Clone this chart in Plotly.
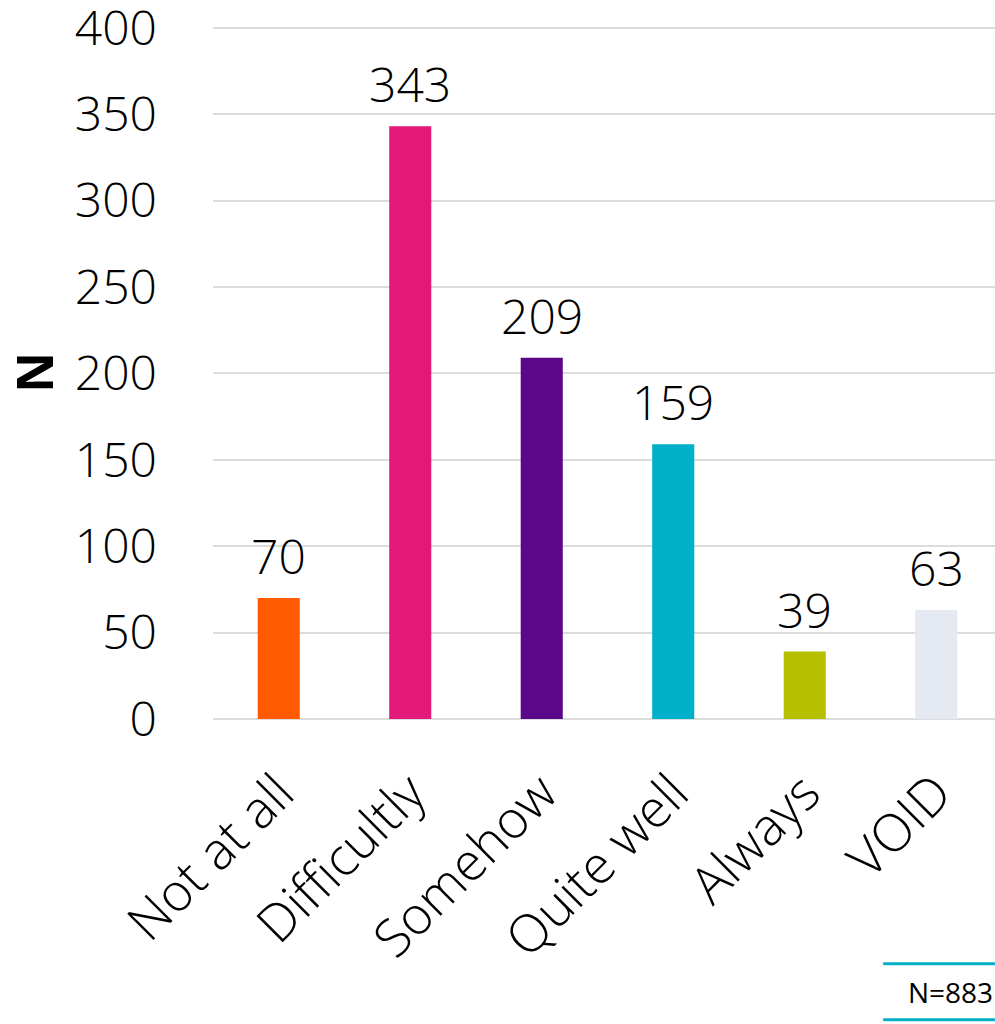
import plotly.graph_objects as go

categories = ["Not at all", "Difficultly", "Somehow", "Quite well", "Always", "VOID"]
counts = [70, 343, 209, 159, 39, 63]
colors = ["#FF5A00", "#E3197A", "#5A0789", "#00AFC8", "#B6BF00", "#E5EAF2"]
y_ticks = [0, 50, 100, 150, 200, 250, 300, 350, 400]
sample_note = "N=883"

FONT = "Open Sans"
NUM_SIZE = 48

fig = go.Figure(
    go.Bar(
        x=categories,
        y=counts,
        marker=dict(color=colors, line=dict(width=0)),
        width=0.32,
        cliponaxis=False,
    )
)

# Value labels above each bar
for cat, v in zip(categories, counts):
    fig.add_annotation(
        x=cat, y=v, text=str(v), showarrow=False,
        yanchor="bottom", yshift=8,
        font=dict(family=FONT, size=NUM_SIZE, color="#000000", weight=300),
    )

fig.update_layout(
    width=995,
    height=1024,
    margin=dict(l=213, r=0, t=26, b=305),
    paper_bgcolor="white",
    plot_bgcolor="white",
    showlegend=False,
    font=dict(family=FONT, color="#000000"),
    xaxis=dict(
        range=[-0.5, 5.447],
        tickangle=-45,
        tickfont=dict(family=FONT, size=52, weight=300),
        showgrid=False,
        showline=False,
        ticks="",
        ticklabelstandoff=32,
        automargin=False,
    ),
    yaxis=dict(
        range=[0, 401],
        tickvals=y_ticks,
        tickfont=dict(family=FONT, size=NUM_SIZE, weight=300),
        ticklabeloverflow="allow",
        automargin=False,
        showgrid=True,
        gridcolor="#DCDCDC",
        gridwidth=2,
        zeroline=True,
        zerolinecolor="#DCDCDC",
        zerolinewidth=2,
        ticks="",
        ticklabelstandoff=55,
        title=dict(text="<b>N</b>", font=dict(family=FONT, size=50), standoff=24),
    ),
)

# Sample size note framed by two teal rules (below the plot area)
for yy in [-0.353, -0.434]:
    fig.add_shape(
        type="line", xref="paper", yref="paper",
        x0=0.857, x1=1.0, y0=yy, y1=yy,
        line=dict(color="#00AFC8", width=3),
    )
fig.add_annotation(
    text=sample_note, xref="paper", yref="paper",
    x=1.0, y=-0.394, xanchor="right", yanchor="middle",
    showarrow=False, font=dict(family=FONT, size=28, color="#000000"),
)

fig.write_html("out.html")
